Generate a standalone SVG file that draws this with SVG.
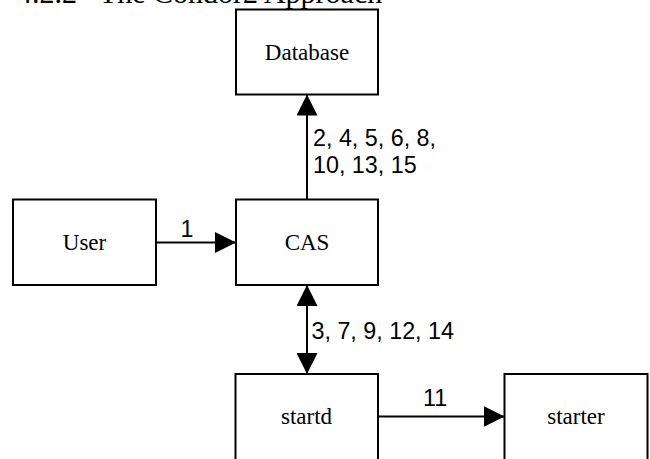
<svg xmlns="http://www.w3.org/2000/svg" width="650" height="459" viewBox="0 0 650 459">
<defs>
<style>
.box{fill:#fff;stroke:#000;stroke-width:2}
.lbl{font-family:"Liberation Serif","Times New Roman",serif;font-size:23px;text-anchor:middle;fill:#000}
.edge{stroke:#000;stroke-width:2;fill:none}
.elbl{font-family:"Liberation Sans",Arial,sans-serif;font-size:23.3px;fill:#000}
</style>
<marker id="ah" viewBox="0 0 21 21" markerWidth="21" markerHeight="21" refX="21" refY="10.5" orient="auto-start-reverse" markerUnits="userSpaceOnUse">
<path d="M0,0 L21,10.5 L0,21 Z" fill="#000"/>
</marker>
</defs>
<rect width="650" height="459" fill="#fff"/>
<text x="17" y="3" font-family="'Liberation Serif','Times New Roman',serif" font-size="30" fill="#000" xml:space="preserve">4.2.2   The Condor2 Approach</text>
<g id="connectors">
<line class="edge" x1="307" y1="199.5" x2="307" y2="94.5" marker-end="url(#ah)"/>
<line class="edge" x1="156" y1="242.5" x2="236" y2="242.5" marker-end="url(#ah)"/>
<line class="edge" x1="307" y1="285" x2="307" y2="374" marker-start="url(#ah)" marker-end="url(#ah)"/>
<line class="edge" x1="378" y1="416.5" x2="504.5" y2="416.5" marker-end="url(#ah)"/>
<text class="elbl" x="313" y="146">2, 4, 5, 6, 8,</text>
<text class="elbl" x="313" y="173">10, 13, 15</text>
<text class="elbl" x="187" y="237" text-anchor="middle">1</text>
<text class="elbl" x="311.5" y="338.5">3, 7, 9, 12, 14</text>
<text class="elbl" x="435" y="405.5" text-anchor="middle">11</text>
</g>
<g id="database"><rect class="box" x="236" y="9.5" width="142" height="85"/><text class="lbl" x="307" y="60">Database</text></g>
<g id="user"><rect class="box" x="13" y="199.5" width="143" height="85.5"/><text class="lbl" x="84.5" y="249.5">User</text></g>
<g id="cas"><rect class="box" x="236" y="199.5" width="142" height="85.5"/><text class="lbl" x="307" y="249.5">CAS</text></g>
<g id="startd"><rect class="box" x="235.5" y="374" width="142.5" height="100"/><text class="lbl" x="306.5" y="424">startd</text></g>
<g id="starter"><rect class="box" x="504.5" y="374" width="143" height="100"/><text class="lbl" x="576" y="424">starter</text></g>
</svg>
